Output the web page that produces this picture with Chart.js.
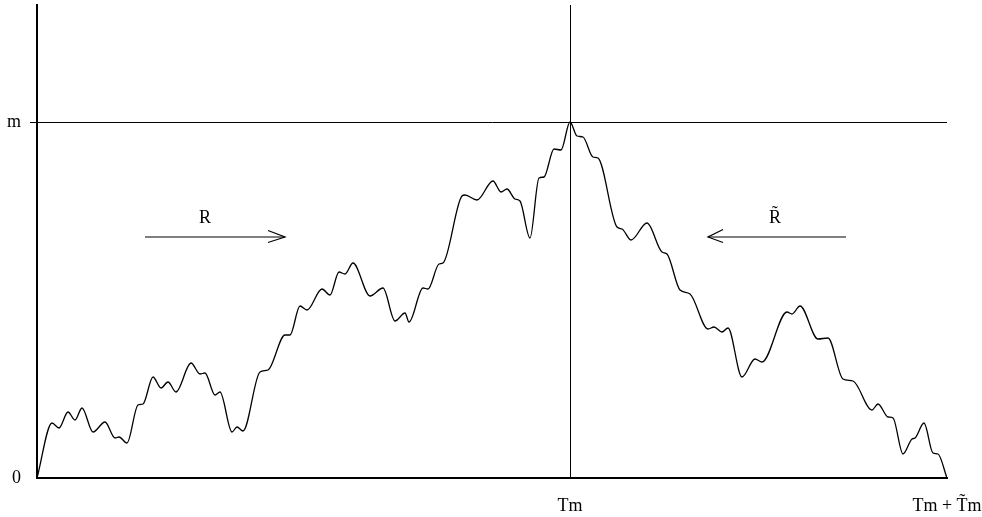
<!DOCTYPE html>
<html>
<head>
<meta charset="utf-8">
<script src="https://cdn.jsdelivr.net/npm/chart.js@4/dist/chart.umd.min.js"></script>
<style>
  html, body { margin: 0; padding: 0; background: #fff; }
  canvas { display: block; }
</style>
</head>
<body>
<canvas id="chart" width="982" height="517"></canvas>
<script>
// path of the walk (x = time, y = height, m = 356)
const walkX = [0, 15, 22, 31, 38, 45, 56, 68, 78, 82, 90, 101, 106, 116, 124, 131, 139,
  154, 163, 168, 178, 183, 195, 200, 206, 223, 231, 248, 253, 263, 270, 285, 293, 302,
  308, 316, 333, 346, 358, 368, 372, 386, 391, 402, 406, 425, 428, 440, 456, 464, 470,
  478, 483, 493, 502, 507, 517, 524, 533, 540, 546, 556, 561, 580, 585, 594, 610, 625,
  630, 643, 653, 671, 677, 685, 691, 705, 718, 725, 750, 755, 763, 781, 791, 806, 816,
  835, 841, 851, 856, 866, 875, 878, 887, 896, 901, 910];
const walkY = [0, 55, 50, 66, 58, 70, 46, 56, 40, 41, 35, 73, 74, 101, 90, 96, 86,
  115, 104, 105, 83, 86, 46, 51, 47, 106, 108, 143, 143, 172, 168, 189, 183, 206,
  204, 215, 182, 190, 157, 165, 156, 190, 189, 214, 215, 282, 283, 278, 297, 286, 289,
  279, 277, 240, 300, 301, 329, 328, 356, 342, 341, 321, 320, 251, 249, 238, 255, 226,
  224, 188, 184, 149, 151, 146, 150, 101, 119, 116, 166, 164, 172, 139, 140, 99, 97,
  68, 74, 61, 60, 24, 39, 40, 55, 25, 24, 0];

const T_M = 533;
const T_END = 910;
const M_LEVEL = 356;
const Y_TOP = 473;

const xTickValues = [T_M, T_END];
const xTickLabels = ['Tm', 'Tm + T\u0303m'];
const yTickValues = [0, M_LEVEL];
const yTickLabels = ['0', 'm'];

// arrows: shaft, then the two head strokes meeting at the tip
const arrowR = [[108, 241], [248, 241]];
const arrowRHead = [[231, 247.5], [248, 241], [231, 235.5]];
const arrowRt = [[809, 241], [671, 241]];
const arrowRtHead = [[686, 248.5], [671, 241], [686, 235.5]];

const textLabels = ['R', 'R\u0303'];
const textX = [168, 738];
const textY = [260, 260];

const SERIF = "'Liberation Serif', 'DejaVu Serif', serif";

const toPts = (pairs) => pairs.map(([x, y]) => ({ x, y }));

const lineSet = (data, extra) => ({
  data,
  borderColor: '#000',
  borderWidth: 1.2,
  pointRadius: 0,
  fill: false,
  tension: 0,
  ...extra,
});

const textPlugin = {
  id: 'textLabels',
  afterDatasetsDraw(chart) {
    const { ctx, scales } = chart;
    ctx.save();
    ctx.fillStyle = '#000';
    ctx.font = `18px ${SERIF}`;
    ctx.textAlign = 'center';
    ctx.textBaseline = 'middle';
    textLabels.forEach((txt, i) => {
      ctx.fillText(txt, scales.x.getPixelForValue(textX[i]), scales.y.getPixelForValue(textY[i]));
    });
    ctx.restore();
  },
};

new Chart(document.getElementById('chart').getContext('2d'), {
  type: 'line',
  data: {
    datasets: [
      lineSet(walkX.map((x, i) => ({ x, y: walkY[i] })), {
        cubicInterpolationMode: 'monotone',
        borderWidth: 1.3,
      }),
      lineSet(toPts(arrowR)),
      lineSet(toPts(arrowRHead)),
      lineSet(toPts(arrowRt)),
      lineSet(toPts(arrowRtHead)),
    ],
  },
  options: {
    responsive: false,
    animation: false,
    layout: { padding: { top: 5, right: 35, left: 0, bottom: 0 } },
    plugins: { legend: { display: false }, tooltip: { enabled: false } },
    scales: {
      x: {
        type: 'linear',
        min: 0,
        max: T_END,
        afterBuildTicks: (scale) => {
          scale.ticks = xTickValues.map((value) => ({ value }));
        },
        afterFit: (scale) => {
          scale.height = 39;
          scale.paddingLeft = 0;
          scale.paddingRight = 0;
        },
        border: { display: true, color: '#000', width: 2 },
        grid: {
          color: (c) => (c.tick && c.tick.value === T_M ? '#000' : 'rgba(0,0,0,0)'),
          lineWidth: 1,
          tickLength: 0,
        },
        ticks: {
          autoSkip: false,
          maxRotation: 0,
          padding: 17,
          color: '#000',
          font: { family: SERIF, size: 18 },
          callback: (v) => xTickLabels[xTickValues.indexOf(v)] ?? '',
        },
      },
      y: {
        type: 'linear',
        min: 0,
        max: Y_TOP,
        afterBuildTicks: (scale) => {
          scale.ticks = yTickValues.map((value) => ({ value }));
        },
        afterFit: (scale) => {
          scale.width = 37;
          scale.paddingTop = 0;
          scale.paddingBottom = 0;
        },
        border: { display: true, color: '#000', width: 2 },
        grid: {
          color: (c) => (c.tick && c.tick.value === M_LEVEL ? '#000' : 'rgba(0,0,0,0)'),
          lineWidth: 1,
          tickLength: 7,
        },
        ticks: {
          autoSkip: false,
          padding: 9,
          color: '#000',
          font: { family: SERIF, size: 18 },
          callback: (v) => yTickLabels[yTickValues.indexOf(v)] ?? '',
        },
      },
    },
  },
  plugins: [textPlugin],
});
</script>
</body>
</html>
